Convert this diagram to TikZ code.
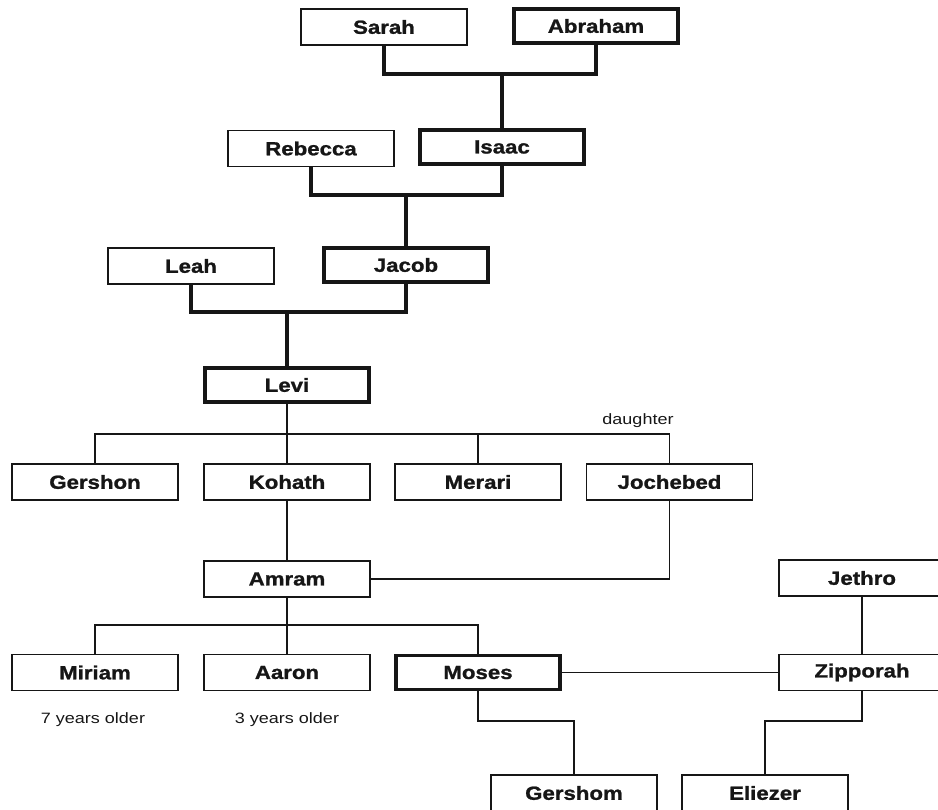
\documentclass[tikz,border=0pt]{standalone}
\usepackage{fontspec}
\newfontfamily\boxfont[FakeStretch=1.17,FakeBold=1.2]{Liberation Sans Bold}
\newfontfamily\notefont[FakeStretch=1.2]{Liberation Sans}
\definecolor{ink}{HTML}{161616}
\tikzset{
  person/.style={draw=ink, line width=1.7pt, fill=white, minimum width=166pt, minimum height=36pt,
    inner sep=0pt, text=ink, font=\boxfont\fontsize{19}{22}\selectfont},
  heir/.style={person, line width=3.2pt, minimum width=164pt, minimum height=34pt},
  thinline/.style={draw=ink, line width=1.6pt},
  thickline/.style={draw=ink, line width=3.2pt},
  note/.style={text=ink, inner sep=0pt, font=\notefont\fontsize{15}{18}\selectfont}
}
\begin{document}
\begin{tikzpicture}[x=1pt,y=-1pt]
\useasboundingbox (0,0) rectangle (938,810);
% junction coordinates
\coordinate (m1) at (502,74);
\coordinate (m2) at (406,195);
\coordinate (m3) at (287,312);
\coordinate (b1) at (287,434);
\coordinate (b2) at (287,625);
\coordinate (g1) at (478,721);

% nodes
\node[person] (sarah) at (384,27) {Sarah};
\node[heir] (abraham) at (596,26) {Abraham};
\node[person] (rebecca) at (311,148.5) {Rebecca};
\node[heir] (isaac) at (502,147) {Isaac};
\node[person] (leah) at (191,266) {Leah};
\node[heir] (jacob) at (406,265) {Jacob};
\node[heir] (levi) at (287,385) {Levi};
\node[person] (gershon) at (95,482) {Gershon};
\node[person] (kohath) at (287,482) {Kohath};
\node[person] (merari) at (478,482) {Merari};
\node[person] (jochebed) at (669.5,482) {Jochebed};
\node[person] (amram) at (287,579) {Amram};
\node[person] (jethro) at (862,578) {Jethro};
\node[person] (miriam) at (95,672.5) {Miriam};
\node[person] (aaron) at (287,672.5) {Aaron};
\node[heir] (moses) at (478,672.5) {Moses};
\node[person] (zipporah) at (862,672.5) {Zipporah};
\node[person] (gershom) at (574,793) {Gershom};
\node[person] (eliezer) at (765,793) {Eliezer};

\node[note] (daughter) at (638,421) {daughter};
\node[note] (miriamage) at (93,720) {7 years older};
\node[note] (aaronage) at (287,720) {3 years older};

% thick lines of descent
\draw[thickline] (sarah.south) -- (sarah.south |- m1) -- (abraham.south |- m1) -- (abraham.south);
\draw[thickline] (m1) -- (isaac.north);
\draw[thickline] (rebecca.south) -- (rebecca.south |- m2) -- (isaac.south |- m2) -- (isaac.south);
\draw[thickline] (m2) -- (jacob.north);
\draw[thickline] (leah.south) -- (leah.south |- m3) -- (jacob.south |- m3) -- (jacob.south);
\draw[thickline] (m3) -- (levi.north);

% thin lines
\draw[thinline] (gershon.north) -- (gershon.north |- b1) -- (jochebed.north |- b1) -- (jochebed.north);
\draw[thinline] (levi.south) -- (kohath.north);
\draw[thinline] (merari.north) -- (merari.north |- b1);
\draw[thinline] (kohath.south) -- (amram.north);
\draw[thinline] (jochebed.south) |- (amram.east);
\draw[thinline] (amram.south) -- (aaron.north);
\draw[thinline] (miriam.north) -- (miriam.north |- b2) -- (moses.north |- b2) -- (moses.north);
\draw[thinline] (moses.east) -- (zipporah.west);
\draw[thinline] (jethro.south) -- (zipporah.north);
\draw[thinline] (moses.south) -- (g1) -| (gershom.north);
\draw[thinline] (zipporah.south) -- (zipporah.south |- g1) -| (eliezer.north);
\end{tikzpicture}
\end{document}
